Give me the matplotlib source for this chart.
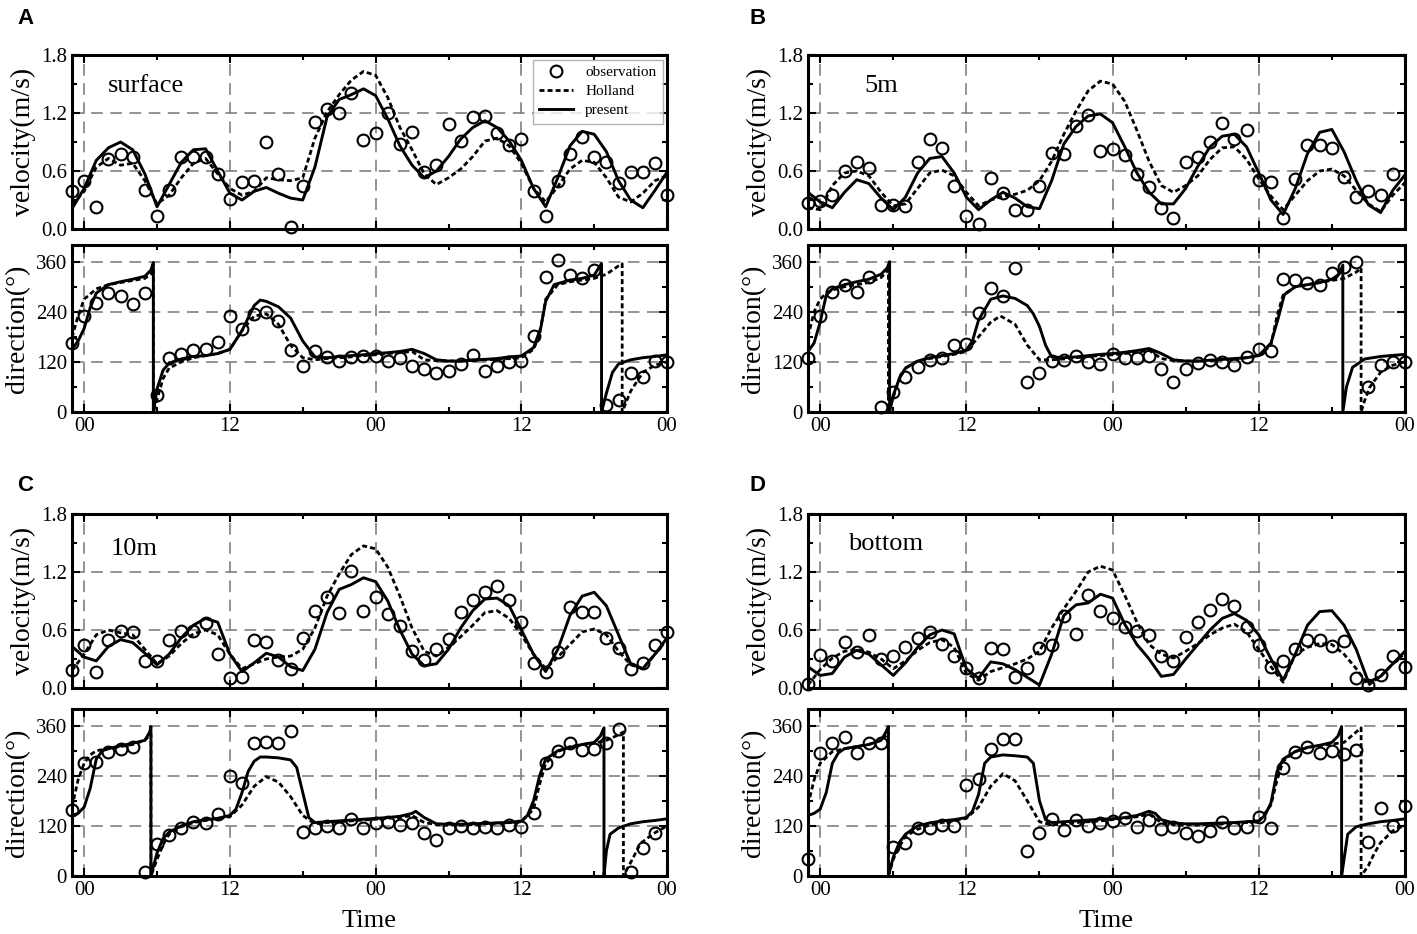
import matplotlib
matplotlib.use('Agg')
import matplotlib.pyplot as plt
from matplotlib.ticker import MultipleLocator

plt.rcParams['font.family'] = ['Liberation Serif', 'DejaVu Serif']

HOURS = list(range(-1, 49))
TICK_POS = [0, 12, 24, 36, 48]
TICK_LABELS = ['00', '12', '00', '12', '00']

# ---------------- A: surface ----------------
A_vel_obs = [0.39, 0.50, 0.23, 0.72, 0.78, 0.75, 0.40, 0.13, 0.40, 0.75,
             0.75, 0.75, 0.57, 0.31, 0.49, 0.50, 0.90, 0.57, 0.02, 0.44,
             1.11, 1.24, 1.20, 1.41, 0.92, 0.99, 1.20, 0.88, 1.00, 0.59,
             0.66, 1.09, 0.91, 1.16, 1.17, 0.99, 0.87, 0.93, 0.39, 0.13,
             0.50, 0.78, 0.95, 0.75, 0.69, 0.48, 0.59, 0.59, 0.68, 0.35]
A_vel_hol = [0.25, 0.39, 0.64, 0.73, 0.66, 0.68, 0.50, 0.26, 0.35, 0.53,
             0.68, 0.73, 0.57, 0.42, 0.35, 0.39, 0.53, 0.51, 0.50, 0.53,
             0.94, 1.21, 1.39, 1.54, 1.63, 1.59, 1.36, 1.05, 0.82, 0.57,
             0.46, 0.53, 0.62, 0.75, 0.91, 0.94, 0.86, 0.68, 0.42, 0.28,
             0.44, 0.62, 0.71, 0.69, 0.53, 0.33, 0.28, 0.37, 0.50, 0.55]
A_vel_pre = [0.21, 0.42, 0.71, 0.84, 0.90, 0.82, 0.57, 0.23, 0.46, 0.69,
             0.82, 0.83, 0.60, 0.37, 0.30, 0.39, 0.43, 0.37, 0.32, 0.30,
             0.64, 1.16, 1.34, 1.39, 1.45, 1.38, 1.14, 0.86, 0.66, 0.53,
             0.60, 0.75, 0.93, 1.05, 1.12, 1.05, 0.91, 0.71, 0.42, 0.23,
             0.53, 0.86, 1.01, 0.98, 0.80, 0.50, 0.30, 0.22, 0.40, 0.59]
A_dir_obs = [166, 229, 261, 285, 277, 259, 285, 40, 129, 140,
             149, 150, 168, 229, 199, 235, 240, 219, 148, 109,
             145, 131, 123, 131, 134, 134, 123, 129, 109, 103,
             93, 99, 116, 137, 99, 111, 119, 123, 182, 324,
             365, 328, 320, 340, 16, 28, 93, 85, 121, 119]
A_dir_hol = [(-1, 178), (-0.5, 230), (0, 270), (1, 295), (2, 305), (3, 310), (4, 315),
             (5, 320), (5.5, 330), (5.7, 345), (5.7, 0), (6, 30), (6.5, 80), (7, 105),
             (8, 120), (9, 130), (10, 135), (11, 140), (12, 150), (13, 195), (14, 230),
             (15, 235), (16, 210), (17, 160), (18, 130), (19, 125), (20, 128), (21, 130),
             (22, 132), (23, 135), (24, 137), (25, 140), (26, 142), (27, 145), (28, 125),
             (29, 123), (30, 122), (31, 122), (32, 124), (33, 125), (34, 126), (35, 128),
             (36, 130), (37, 150), (37.5, 185), (38, 270), (39, 305), (40, 312), (41, 316),
             (42, 320), (43, 330), (44, 350), (44.3, 355), (44.3, 0), (45, 50), (46, 95),
             (47, 112), (48, 120)]
A_dir_pre = [(-1, 150), (-0.5, 170), (0, 200), (0.5, 250), (1, 285), (2, 305), (3, 312),
             (4, 318), (5, 325), (5.5, 340), (5.7, 358), (5.7, 0), (6, 55), (6.5, 100),
             (7, 117), (8, 127), (9, 133), (10, 135), (11, 140), (12, 150), (13, 195),
             (14, 255), (14.5, 268), (15, 265), (16, 252), (17, 225), (18, 170), (19, 132),
             (20, 130), (21, 133), (22, 135), (23, 137), (24, 140), (25, 142), (26, 145),
             (27, 150), (28, 140), (29, 125), (30, 122), (31, 122), (32, 125), (33, 126),
             (34, 128), (35, 132), (36, 134), (37, 154), (37.6, 202), (38, 265), (38.7, 305),
             (40, 316), (41, 320), (42, 328), (42.6, 356), (42.6, 0), (43, 45), (43.5, 95),
             (44, 115), (45, 125), (46, 130), (47, 133), (48, 137)]

# ---------------- B: 5m ----------------
B_vel_obs = [0.27, 0.29, 0.35, 0.60, 0.69, 0.63, 0.25, 0.25, 0.24, 0.69,
             0.93, 0.84, 0.44, 0.13, 0.05, 0.53, 0.37, 0.20, 0.20, 0.45,
             0.79, 0.78, 1.07, 1.18, 0.81, 0.83, 0.77, 0.57, 0.43, 0.22,
             0.11, 0.69, 0.74, 0.90, 1.10, 0.93, 1.02, 0.51, 0.49, 0.11,
             0.52, 0.87, 0.87, 0.84, 0.54, 0.33, 0.39, 0.35, 0.57]
B_vel_hol = [0.22, 0.20, 0.45, 0.58, 0.60, 0.55, 0.38, 0.24, 0.26, 0.42,
             0.58, 0.61, 0.55, 0.38, 0.24, 0.30, 0.34, 0.36, 0.40, 0.50,
             0.70, 0.98, 1.22, 1.43, 1.53, 1.50, 1.32, 1.02, 0.70, 0.45,
             0.38, 0.45, 0.55, 0.72, 0.84, 0.85, 0.72, 0.52, 0.34, 0.20,
             0.35, 0.50, 0.60, 0.62, 0.55, 0.40, 0.26, 0.18, 0.35, 0.48]
B_vel_pre = [0.38, 0.28, 0.22, 0.38, 0.51, 0.47, 0.32, 0.20, 0.33, 0.58,
             0.73, 0.75, 0.58, 0.33, 0.20, 0.30, 0.38, 0.32, 0.23, 0.21,
             0.50, 0.88, 1.06, 1.17, 1.19, 1.10, 0.85, 0.58, 0.38, 0.26,
             0.26, 0.42, 0.65, 0.85, 0.96, 0.98, 0.85, 0.58, 0.30, 0.15,
             0.42, 0.78, 1.00, 1.03, 0.80, 0.50, 0.25, 0.17, 0.40, 0.56]
B_dir_obs = [129, 229, 287, 305, 287, 324, 12, 49, 85, 107,
             124, 129, 161, 164, 237, 298, 279, 344, 71, 93,
             121, 125, 133, 119, 116, 140, 129, 129, 134, 103,
             73, 103, 117, 125, 120, 112, 131, 150, 146, 318,
             315, 309, 305, 332, 348, 360, 59, 112, 119, 119]
B_dir_hol = [(-1, 180), (-0.5, 240), (0, 270), (0.5, 285), (1, 292), (2, 300), (3, 305),
             (4, 310), (5, 322), (5.6, 340), (5.6, 0), (6, 35), (6.5, 80), (7, 105),
             (8, 122), (9, 128), (10, 133), (11, 138), (12, 145), (13, 180), (14, 215),
             (14.8, 230), (16, 210), (17, 160), (18, 125), (19, 125), (20, 127), (21, 130),
             (22, 133), (23, 135), (24, 137), (25, 140), (26, 143), (27, 148), (28, 128),
             (29, 123), (30, 122), (31, 122), (32, 123), (33, 125), (34, 127), (35, 130),
             (36, 135), (37, 160), (37.5, 230), (38, 280), (39, 300), (40, 305), (41, 310),
             (42, 315), (43, 320), (44, 335), (44.4, 345), (44.4, 0), (44.7, 28), (45.1, 59),
             (46, 95), (47, 112), (48, 120)]
B_dir_pre = [(-1, 145), (-0.5, 165), (0, 215), (0.5, 280), (1, 295), (2, 305), (3, 312),
             (4, 318), (5, 330), (5.5, 345), (5.7, 360), (5.7, 0), (6, 40), (6.5, 80),
             (7, 105), (8, 122), (9, 130), (10, 135), (11, 140), (12, 148), (12.5, 170),
             (13, 220), (14, 270), (15, 278), (16, 272), (17, 255), (17.5, 235), (18, 205),
             (18.5, 160), (19, 132), (20, 130), (21, 132), (22, 135), (23, 138), (24, 140),
             (25, 143), (26, 147), (27, 152), (28, 140), (29, 125), (30, 122), (31, 122),
             (32, 124), (33, 126), (34, 128), (35, 130), (36, 135), (36.5, 150), (37, 165),
             (37.6, 225), (38.1, 281), (39, 300), (40, 305), (41, 310), (42, 318), (42.6, 330),
             (42.9, 352), (42.9, 0), (43.2, 60), (43.7, 107), (44.7, 127), (46, 133), (48, 138)]

# ---------------- C: 10m ----------------
C_vel_obs = [0.19, 0.44, 0.17, 0.50, 0.59, 0.58, 0.28, 0.28, 0.50, 0.59,
             0.59, 0.67, 0.35, 0.10, 0.11, 0.50, 0.48, 0.29, 0.20, 0.52,
             0.80, 0.94, 0.78, 1.21, 0.80, 0.94, 0.77, 0.64, 0.38, 0.29,
             0.40, 0.51, 0.79, 0.91, 0.99, 1.05, 0.91, 0.68, 0.26, 0.17,
             0.37, 0.84, 0.79, 0.79, 0.52, 0.41, 0.20, 0.26, 0.44, 0.58]
C_vel_hol = [0.18, 0.35, 0.55, 0.60, 0.57, 0.55, 0.40, 0.25, 0.33, 0.46,
             0.56, 0.60, 0.55, 0.35, 0.20, 0.25, 0.30, 0.32, 0.33, 0.40,
             0.62, 0.95, 1.18, 1.38, 1.47, 1.44, 1.25, 0.95, 0.62, 0.38,
             0.33, 0.42, 0.53, 0.65, 0.78, 0.80, 0.72, 0.55, 0.35, 0.20,
             0.32, 0.45, 0.58, 0.61, 0.55, 0.38, 0.24, 0.20, 0.35, 0.50]
C_vel_pre = [0.43, 0.32, 0.28, 0.43, 0.50, 0.47, 0.36, 0.24, 0.35, 0.52,
             0.65, 0.72, 0.68, 0.35, 0.17, 0.26, 0.36, 0.32, 0.22, 0.18,
             0.40, 0.78, 1.02, 1.07, 1.14, 1.10, 0.90, 0.60, 0.35, 0.23,
             0.25, 0.40, 0.62, 0.80, 0.92, 0.93, 0.85, 0.60, 0.35, 0.17,
             0.40, 0.75, 0.95, 0.99, 0.85, 0.55, 0.25, 0.20, 0.35, 0.52]
C_dir_obs = [158, 270, 274, 298, 303, 310, 10, 77, 98, 114,
             130, 128, 148, 239, 223, 318, 322, 318, 348, 105,
             116, 120, 116, 136, 116, 126, 130, 122, 128, 102,
             86, 116, 120, 116, 118, 116, 122, 118, 152, 271,
             300, 319, 302, 303, 318, 351, 10, 66, 102]
C_dir_hol = [(-1, 165), (-0.5, 230), (0, 270), (0.5, 290), (1, 300), (2, 305), (3, 310),
             (4, 315), (5, 325), (5.5, 340), (5.5, 0), (6, 40), (6.5, 75), (7, 100),
             (8, 118), (9, 128), (10, 133), (11, 138), (12, 142), (13, 170), (14, 215),
             (15, 238), (16, 225), (17, 190), (18, 145), (19, 125), (20, 128), (21, 130),
             (22, 132), (23, 134), (24, 136), (25, 138), (26, 140), (27, 145), (28, 128),
             (29, 123), (30, 122), (31, 122), (32, 123), (33, 125), (34, 127), (35, 128),
             (36, 130), (37, 160), (37.5, 220), (38, 270), (39, 298), (40, 310), (41, 315),
             (42, 318), (43, 325), (44, 338), (44.4, 345), (44.4, 0), (45.1, 38), (45.8, 78),
             (46.9, 102), (48, 120)]
C_dir_pre = [(-1, 145), (-0.5, 150), (0, 165), (0.5, 210), (1, 280), (1.5, 300), (2, 305),
             (3, 312), (4, 318), (5, 325), (5.4, 345), (5.5, 358), (5.5, 0), (6, 55),
             (6.5, 90), (7, 105), (8, 120), (9, 130), (10, 135), (11, 138), (12, 145),
             (12.5, 160), (13, 200), (13.5, 250), (14, 275), (14.5, 285), (15, 285),
             (16, 283), (17, 278), (17.5, 260), (18, 200), (18.5, 140), (19, 128), (20, 130),
             (21, 132), (22, 134), (23, 136), (24, 138), (25, 140), (26, 143), (27, 150),
             (27.3, 155), (28, 140), (29, 125), (30, 124), (31, 124), (32, 125), (33, 126),
             (34, 127), (35, 128), (36, 132), (36.5, 145), (37, 180), (37.5, 240), (38, 280),
             (39, 300), (40, 308), (41, 315), (42, 320), (42.5, 335), (42.8, 355), (42.8, 0),
             (43, 60), (43.3, 100), (44, 115), (45, 125), (46, 130), (47, 133), (48, 137)]

# ---------------- D: bottom ----------------
D_vel_obs = [0.04, 0.34, 0.28, 0.48, 0.37, 0.55, 0.30, 0.33, 0.42, 0.52,
             0.58, 0.46, 0.33, 0.21, 0.10, 0.41, 0.40, 0.11, 0.21, 0.41,
             0.44, 0.74, 0.56, 0.96, 0.80, 0.72, 0.63, 0.59, 0.55, 0.33,
             0.28, 0.53, 0.68, 0.81, 0.92, 0.85, 0.63, 0.44, 0.22, 0.28,
             0.40, 0.50, 0.50, 0.43, 0.49, 0.10, 0.03, 0.13, 0.33, 0.22]
D_vel_hol = [0.03, 0.19, 0.31, 0.38, 0.40, 0.37, 0.30, 0.20, 0.28, 0.39,
             0.47, 0.50, 0.42, 0.15, 0.08, 0.17, 0.21, 0.25, 0.30, 0.38,
             0.62, 0.82, 1.00, 1.20, 1.26, 1.22, 0.96, 0.68, 0.45, 0.35,
             0.31, 0.38, 0.46, 0.55, 0.62, 0.66, 0.58, 0.40, 0.22, 0.06,
             0.35, 0.42, 0.46, 0.45, 0.35, 0.20, 0.03, 0.12, 0.25, 0.36]
D_vel_pre = [0.22, 0.13, 0.15, 0.32, 0.39, 0.35, 0.24, 0.13, 0.26, 0.42,
             0.55, 0.60, 0.56, 0.20, 0.10, 0.27, 0.25, 0.19, 0.11, 0.03,
             0.35, 0.75, 0.86, 0.88, 0.97, 0.93, 0.66, 0.45, 0.30, 0.12,
             0.14, 0.30, 0.45, 0.60, 0.72, 0.77, 0.70, 0.55, 0.30, 0.08,
             0.35, 0.65, 0.79, 0.80, 0.65, 0.40, 0.06, 0.12, 0.25, 0.38]
D_dir_obs = [40, 294, 318, 332, 295, 318, 319, 70, 78, 114,
             114, 122, 120, 218, 232, 303, 328, 328, 61, 102,
             136, 110, 134, 120, 126, 132, 138, 117, 134, 113,
             117, 104, 97, 108, 130, 116, 118, 142, 114, 258,
             298, 310, 295, 300, 292, 302, 82, 164, 120, 168]
D_dir_hol = [(-1, 170), (-0.5, 230), (0, 270), (1, 298), (2, 305), (3, 310), (4, 315),
             (5, 325), (5.5, 338), (5.6, 345), (5.6, 0), (6, 40), (6.5, 70), (7, 95),
             (8, 112), (9, 122), (10, 128), (11, 133), (12, 138), (13, 165), (14, 215),
             (15, 245), (16, 228), (17, 180), (18, 130), (19, 122), (20, 125), (21, 128),
             (22, 130), (23, 132), (24, 135), (25, 138), (26, 142), (27, 148), (28, 128),
             (29, 123), (30, 122), (31, 122), (32, 123), (33, 125), (34, 127), (35, 128),
             (36, 130), (37, 170), (37.5, 230), (38, 275), (39, 298), (40, 308), (41, 312),
             (42, 316), (43, 320), (44, 345), (44.4, 355), (44.4, 0), (45, 25), (45.5, 55),
             (46, 80), (47, 108), (48, 122)]
D_dir_pre = [(-1, 145), (-0.5, 150), (0, 160), (0.5, 200), (1, 270), (1.5, 295), (2, 305),
             (3, 310), (4, 315), (5, 325), (5.4, 345), (5.6, 358), (5.6, 0), (6, 45),
             (6.5, 80), (7, 100), (8, 120), (9, 127), (10, 132), (11, 135), (12, 140),
             (12.5, 155), (13, 195), (13.5, 270), (14, 285), (15, 290), (16, 288), (17, 285),
             (17.5, 270), (18, 180), (18.5, 135), (19, 128), (20, 130), (21, 132), (22, 134),
             (23, 136), (24, 137), (25, 140), (26, 145), (27, 155), (27.5, 150), (28, 135),
             (29, 127), (30, 125), (31, 125), (32, 126), (33, 127), (34, 128), (35, 130),
             (36, 132), (36.5, 145), (37, 175), (37.5, 250), (38, 280), (39, 298), (40, 308),
             (41, 313), (42, 320), (42.5, 335), (42.8, 358), (42.8, 0), (43, 40), (43.3, 100),
             (44, 118), (45, 125), (46, 130), (47, 133), (48, 137)]

PANELS = [
    ('A', 'surface', 0.060, 0.82, A_vel_obs, A_vel_hol, A_vel_pre, A_dir_obs, A_dir_hol, A_dir_pre),
    ('B', '5m', 0.095, 0.82, B_vel_obs, B_vel_hol, B_vel_pre, B_dir_obs, B_dir_hol, B_dir_pre),
    ('C', '10m', 0.065, 0.80, C_vel_obs, C_vel_hol, C_vel_pre, C_dir_obs, C_dir_hol, C_dir_pre),
    ('D', 'bottom', 0.067, 0.83, D_vel_obs, D_vel_hol, D_vel_pre, D_dir_obs, D_dir_hol, D_dir_pre),
]

HOL_STYLE = dict(color='black', lw=2.0, linestyle=(0, (1.8, 1.1)))
PRE_STYLE = dict(color='black', lw=2.1, linestyle='-')
OBS_STYLE = dict(linestyle='none', marker='o', ms=8.5, mfc='none', mec='black',
                 mew=1.5, clip_on=False)
GRID_STYLE = dict(color='#808080', lw=1.2, linestyle=(0, (7, 4.5)))


def style_axis(ax):
    ax.set_xlim(-1, 48)
    ax.set_xticks(TICK_POS)
    ax.xaxis.set_minor_locator(MultipleLocator(6))
    ax.tick_params(which='both', direction='in', top=True, right=True, labelsize=15)
    ax.tick_params(which='major', length=6, width=1.5)
    ax.tick_params(which='minor', length=3.5, width=1.5)
    for sp in ax.spines.values():
        sp.set_linewidth(2.2)
    for x in TICK_POS[:-1]:
        ax.axvline(x, zorder=0, **GRID_STYLE)


fig = plt.figure(figsize=(14.17, 9.34), dpi=100)

lefts = [0.0508, 0.5702, 0.0508, 0.5702]
v_bottoms = [0.7548, 0.7548, 0.2634, 0.2634]
d_bottoms = [0.5589, 0.5589, 0.0621, 0.0621]
letter_pos = [(0.012, 0.980), (0.529, 0.980), (0.012, 0.480), (0.529, 0.480)]

for i, (letter, depth, tx, ty, v_obs, v_hol, v_pre, d_obs, d_hol, d_pre) in enumerate(PANELS):
    w = 0.4200 if lefts[i] < 0.5 else 0.4213
    axv = fig.add_axes([lefts[i], v_bottoms[i], w, 0.1863])
    axd = fig.add_axes([lefts[i], d_bottoms[i], w, 0.1788])

    # velocity
    style_axis(axv)
    axv.set_ylim(0, 1.8)
    axv.set_yticks([0, 0.6, 1.2, 1.8])
    axv.set_yticklabels(['0.0', '0.6', '1.2', '1.8'])
    axv.yaxis.set_minor_locator(MultipleLocator(0.3))
    axv.set_xticklabels([])
    for y in [0.6, 1.2]:
        axv.axhline(y, zorder=0, **GRID_STYLE)
    axv.plot(HOURS[:len(v_obs)], v_obs, label='observation', **OBS_STYLE)
    axv.plot(HOURS, v_hol, label='Holland', **HOL_STYLE)
    axv.plot(HOURS, v_pre, label='present', **PRE_STYLE)
    axv.set_ylabel('velocity(m/s)', fontsize=20, labelpad=4)
    axv.text(tx, ty, depth, transform=axv.transAxes, fontsize=19, va='center', ha='left')
    if letter == 'A':
        leg = axv.legend(loc='upper right', fontsize=11, frameon=True, fancybox=False,
                         edgecolor='#a0a0a0', handlelength=2.2, borderaxespad=0.3,
                         labelspacing=0.35, borderpad=0.4)
        leg.get_frame().set_linewidth(1.0)

    # direction
    style_axis(axd)
    axd.set_ylim(0, 400)
    axd.set_yticks([0, 120, 240, 360])
    axd.yaxis.set_minor_locator(MultipleLocator(60))
    axd.set_xticklabels(TICK_LABELS)
    for y in [120, 240, 360]:
        axd.axhline(y, zorder=0, **GRID_STYLE)
    t_h, d_h = zip(*d_hol)
    t_p, d_p = zip(*d_pre)
    axd.plot(HOURS[:len(d_obs)], d_obs, **OBS_STYLE)
    axd.plot(t_h, d_h, **HOL_STYLE)
    axd.plot(t_p, d_p, **PRE_STYLE)
    axd.set_ylabel('direction(°)', fontsize=20, labelpad=4)
    if letter in ('C', 'D'):
        axd.set_xlabel('Time', fontsize=19, labelpad=7)

    fig.text(letter_pos[i][0], letter_pos[i][1], letter, fontsize=16, fontweight='bold',
             family=['Liberation Sans', 'DejaVu Sans'], va='center', ha='left')

fig.savefig('out.png', dpi=100)
